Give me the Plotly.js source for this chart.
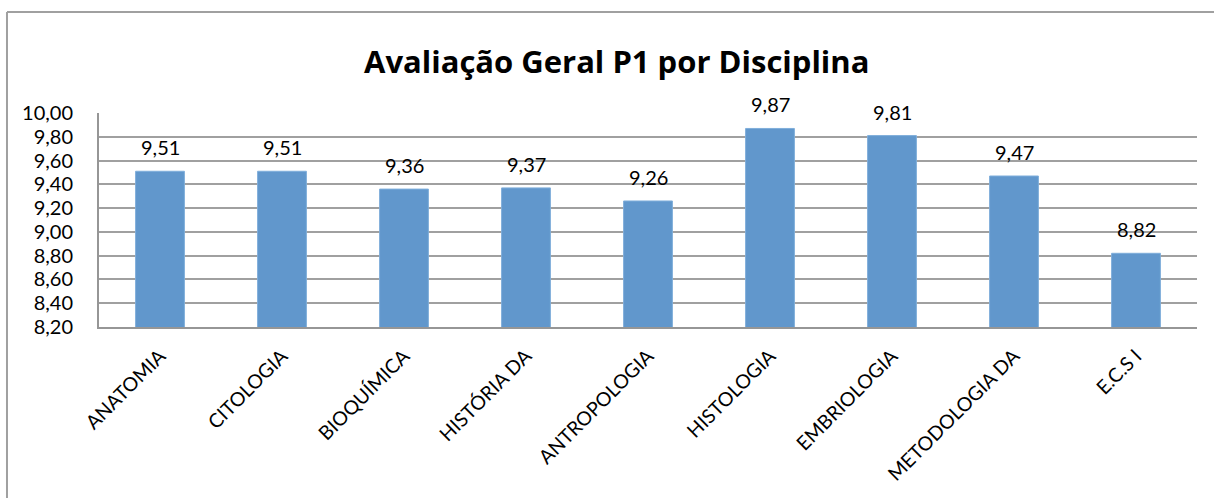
<!DOCTYPE html>
<html>
<head>
<meta charset="utf-8">
<script src="https://cdn.plot.ly/plotly-3.0.1.min.js"></script>
<style>
html,body{margin:0;padding:0;background:#fff;}
#chart{width:1214px;height:498px;}
</style>
</head>
<body>
<div id="chart"></div>
<script>
const categories = ["ANATOMIA","CITOLOGIA","BIOQUÍMICA","HISTÓRIA DA","ANTROPOLOGIA","HISTOLOGIA","EMBRIOLOGIA","METODOLOGIA DA","E.C.S I"];
const scores = [9.51, 9.51, 9.36, 9.37, 9.26, 9.87, 9.81, 9.47, 8.82];
const yTickValues = [8.2, 8.4, 8.6, 8.8, 9.0, 9.2, 9.4, 9.6, 9.8, 10.0];

const FONT = "Lato, 'Open Sans', sans-serif";
const TITLE_FONT = "'Open Sans', Lato, sans-serif";

const trace = {
  type: "bar",
  x: categories,
  y: scores,
  marker: {color: "#6197CC", line: {color: "#7FAEDB", width: 1}},
  cliponaxis: false,
  hoverinfo: "x+y"
};

const labelAnnotations = categories.map((c, i) => ({
  x: c, y: scores[i], xref: "x", yref: "y",
  text: scores[i].toFixed(2).replace(".", ","),
  showarrow: false, xanchor: "center", yanchor: "middle", yshift: 24,
  font: {family: FONT, size: 20, color: "#000"}
}));

const layout = {
  width: 1214, height: 498,
  margin: {l: 99, r: 17, t: 113, b: 171},
  paper_bgcolor: "#fff", plot_bgcolor: "#fff",
  separators: ",.",
  bargap: 0.6,
  showlegend: false,
  title: {
    text: "<b>Avaliação Geral P1 por Disciplina</b>",
    font: {family: TITLE_FONT, size: 31, color: "#000"},
    x: 0.508, xanchor: "center", y: 0.875, yanchor: "middle"
  },
  xaxis: {
    type: "category",
    tickangle: -45,
    tickfont: {family: FONT, size: 19.5, color: "#000"},
    ticklabelstandoff: 8,
    showline: true, linecolor: "#969696", linewidth: 2,
    ticks: "", showgrid: false
  },
  yaxis: {
    range: [8.2, 10.0],
    tickvals: yTickValues,
    tickformat: ".2f",
    tickfont: {family: FONT, size: 20, color: "#000"},
    ticklabelstandoff: 20,
    showgrid: true, gridcolor: "#A0A0A0", gridwidth: 2,
    showline: true, linecolor: "#969696", linewidth: 2,
    ticks: "", ticklen: 0,
    zeroline: false
  },
  annotations: labelAnnotations,
  shapes: [
    {type: "line", xref: "paper", yref: "paper", x0: -0.0838, x1: -0.0838, y0: -0.81, y1: 1.472,
     line: {color: "#A0A0A0", width: 2}},
    {type: "line", xref: "paper", yref: "paper", x0: -0.0838, x1: 1.02, y0: 1.472, y1: 1.472,
     line: {color: "#A0A0A0", width: 2}}
  ]
};

Plotly.newPlot("chart", [trace], layout, {displayModeBar: false, staticPlot: true});
</script>
</body>
</html>
